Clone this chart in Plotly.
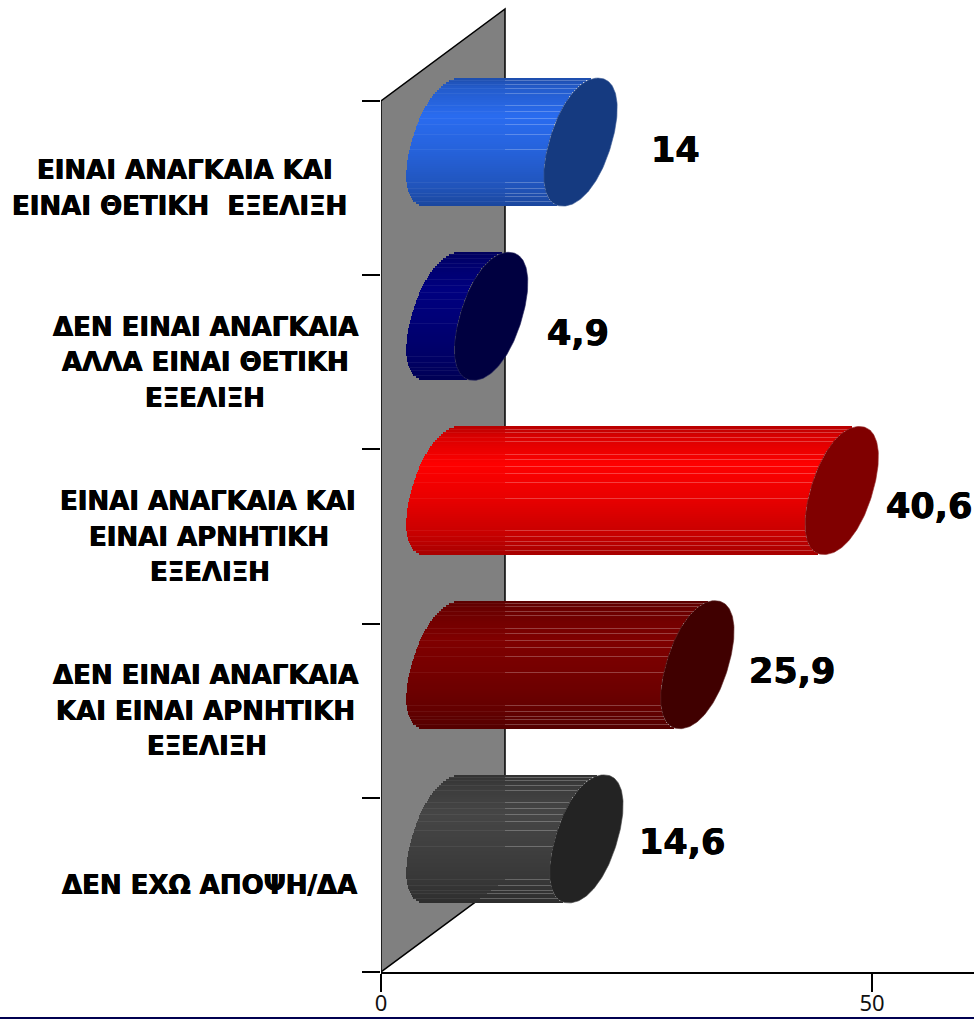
import numpy as np
import plotly.graph_objects as go

# ---- data ----
categories = [
    ["ΕΙΝΑΙ ΑΝΑΓΚΑΙΑ ΚΑΙ", "ΕΙΝΑΙ ΘΕΤΙΚΗ  ΕΞΕΛΙΞΗ"],
    ["ΔΕΝ ΕΙΝΑΙ ΑΝΑΓΚΑΙΑ", "ΑΛΛΑ ΕΙΝΑΙ ΘΕΤΙΚΗ", "ΕΞΕΛΙΞΗ"],
    ["ΕΙΝΑΙ ΑΝΑΓΚΑΙΑ ΚΑΙ", "ΕΙΝΑΙ ΑΡΝΗΤΙΚΗ", "ΕΞΕΛΙΞΗ"],
    ["ΔΕΝ ΕΙΝΑΙ ΑΝΑΓΚΑΙΑ", "ΚΑΙ ΕΙΝΑΙ ΑΡΝΗΤΙΚΗ", "ΕΞΕΛΙΞΗ"],
    ["ΔΕΝ ΕΧΩ ΑΠΟΨΗ/ΔΑ"],
]
values = [14, 4.9, 40.6, 25.9, 14.6]
value_labels = ["14", "4,9", "40,6", "25,9", "14,6"]
x_ticks = [0, 50]

# ---- style ----
body_rgb = [(42, 108, 240), (0, 0, 128), (255, 0, 0), (128, 0, 0), (70, 70, 70)]
cap_rgb = [(21, 58, 128), (0, 0, 64), (128, 0, 0), (64, 0, 0), (35, 35, 35)]
label_gap_px = [32, 17, 6, 13, 14]
label_shift_px = [-8, -17, -15, -6, -3]
cat_x_px = [[185, 179], [205, 205, 205], [208, 209, 210], [205, 205, 207], [209]]

W, H = 974, 1019
X0_PX, Y0_PX = 381, 972
PX_PER_X = 491 / 50
PX_PER_Y = 174.2
DEPTH_X = 124 / PX_PER_X
DEPTH_Y = 92 / PX_PER_Y
R_Y = 64 / PX_PER_Y
SKEW = 17.5 / PX_PER_X
R_X = 31.5 / PX_PER_X
Q = 2.15
N = 64
HAIR = [0.02, 0.047, 0.085, 0.119, 0.215, 0.259, 0.313, 0.365, 0.438, 0.56, 0.816, 0.863, 0.902, 0.927, 0.966]
HEAVY = "0.4px 0 0 #000, -0.4px 0 0 #000"


def shade(frac):
    pts_x = [0, 0.08, 0.3, 0.55, 0.85, 1]
    pts_y = [0.72, 0.85, 1.0, 0.92, 0.78, 0.66]
    return float(np.interp(frac, pts_x, pts_y))


def rim(c):
    """Rounded end-ellipse half width at height c in [-1, 1]."""
    return np.power(np.maximum(0.0, 1 - np.power(np.abs(c), Q)), 1 / Q)


def left_edge(frac):
    """x offset of the visible left rim of the end ellipse at a height (0=top, 1=bottom)."""
    c = 1 - 2 * frac
    return SKEW * c - R_X * rim(c)


fig = go.Figure()

n = len(values)
for i, (v, rgb, cap) in enumerate(zip(values, body_rgb, cap_rgb)):
    cy = n - i - 0.5 + DEPTH_Y / 2
    cx0 = DEPTH_X / 2
    fr = (np.arange(N) + 0.5) / N
    ys = cy + R_Y * (1 - 2 * fr)
    bases = [cx0 + left_edge(f) for f in fr]
    colors = ["rgb(%d,%d,%d)" % tuple(int(c * shade(f)) for c in rgb) for f in fr]
    fig.add_trace(go.Bar(
        orientation="h", x=[v] * N, y=ys, base=bases,
        width=[2 * R_Y / N * 1.02] * N, marker=dict(color=colors, line=dict(width=0)),
        hoverinfo="skip", showlegend=False,
    ))

    # fine lighter streaks of the stepped cylinder body
    hf = np.array(HAIR)
    hy = cy + R_Y * (1 - 2 * hf)
    hb = np.array([cx0 + left_edge(f) for f in hf])
    fig.add_trace(go.Bar(
        orientation="h", x=[v] * len(hf), y=hy, base=hb, width=[1 / PX_PER_Y] * len(hf),
        marker=dict(color="rgba(255,255,255,0.06)", line=dict(width=0)),
        hoverinfo="skip", showlegend=False,
    ))
    wall_r = np.minimum(DEPTH_X, hy / DEPTH_Y * DEPTH_X)
    hl = hb + v - wall_r
    keep = hl > 0
    fig.add_trace(go.Bar(
        orientation="h", x=hl[keep], y=hy[keep], base=wall_r[keep], width=[1 / PX_PER_Y] * int(keep.sum()),
        marker=dict(color="rgba(255,255,255,0.2)", line=dict(width=0)),
        hoverinfo="skip", showlegend=False,
    ))

    # end cap
    t = np.linspace(0, 2 * np.pi, 181)
    cx1 = cx0 + v
    cos_t = np.cos(t)
    sin_sign = np.sign(np.sin(t))
    fig.add_trace(go.Scatter(
        x=cx1 + SKEW * cos_t + R_X * sin_sign * rim(cos_t), y=cy + R_Y * cos_t,
        mode="lines", fill="toself", fillcolor="rgb(%d,%d,%d)" % cap,
        line=dict(color="rgb(%d,%d,%d)" % tuple(int(c * 0.85 + 40) for c in cap), width=0.6),
        hoverinfo="skip", showlegend=False,
    ))

annotations = []
for i, (v, txt) in enumerate(zip(values, value_labels)):
    annotations.append(dict(
        x=v + DEPTH_X / 2 + np.hypot(16.5 / PX_PER_X, 32.6 / PX_PER_X), y=n - i - 0.5 + DEPTH_Y / 2,
        xref="x", yref="y", text=txt, showarrow=False, xanchor="left", yanchor="middle",
        xshift=label_gap_px[i], yshift=label_shift_px[i],
        font=dict(family="DejaVu Sans", size=35, color="black", weight="bold", shadow=HEAVY),
    ))
for i, lines in enumerate(categories):
    for j, line in enumerate(lines):
        annotations.append(dict(
            x=(cat_x_px[i][j] - X0_PX) / (W - X0_PX), y=n - i - 0.5,
            xref="paper", yref="y", text=line, showarrow=False, xanchor="center", yanchor="middle",
            yshift=-(j - (len(lines) - 1) / 2) * 35.5,
            font=dict(family="DejaVu Sans", size=26, color="black", weight="bold", shadow=HEAVY),
        ))

wall = dict(
    type="path", xref="x", yref="y", layer="below",
    path=f"M 0 0 L {DEPTH_X} {DEPTH_Y} L {DEPTH_X} {5 + DEPTH_Y} L 0 5 Z",
    fillcolor="#808080", line=dict(color="black", width=1.5),
)
bottom_rule = dict(
    type="line", xref="paper", yref="paper", x0=-X0_PX / (W - X0_PX), x1=1,
    y0=-(1018 - Y0_PX) / Y0_PX, y1=-(1018 - Y0_PX) / Y0_PX,
    line=dict(color="#000050", width=2),
)

fig.update_layout(
    width=W, height=H,
    margin=dict(l=X0_PX, r=0, t=0, b=H - Y0_PX, pad=0),
    paper_bgcolor="white", plot_bgcolor="white",
    barmode="overlay", bargap=0, showlegend=False,
    annotations=annotations, shapes=[wall, bottom_rule],
    xaxis=dict(
        range=[0, (W - X0_PX) / PX_PER_X], tickvals=x_ticks, ticktext=[str(t) for t in x_ticks],
        ticks="outside", ticklen=18, tickwidth=1.5, tickcolor="black", automargin=False,
        showline=True, linecolor="black", linewidth=1.5, showgrid=False, zeroline=False,
        tickfont=dict(family="Noto Sans", size=22, color="#111111"), ticklabelstandoff=-7,
    ),
    yaxis=dict(
        range=[0, Y0_PX / PX_PER_Y], tickvals=list(range(n + 1)), showticklabels=False,
        ticks="outside", ticklen=18, tickwidth=1.5, tickcolor="black", automargin=False,
        showline=False, showgrid=False, zeroline=False,
    ),
)

fig.write_html("out.html", config={"displayModeBar": False},
               post_script="document.body.style.margin='0';document.body.style.overflow='hidden';")
